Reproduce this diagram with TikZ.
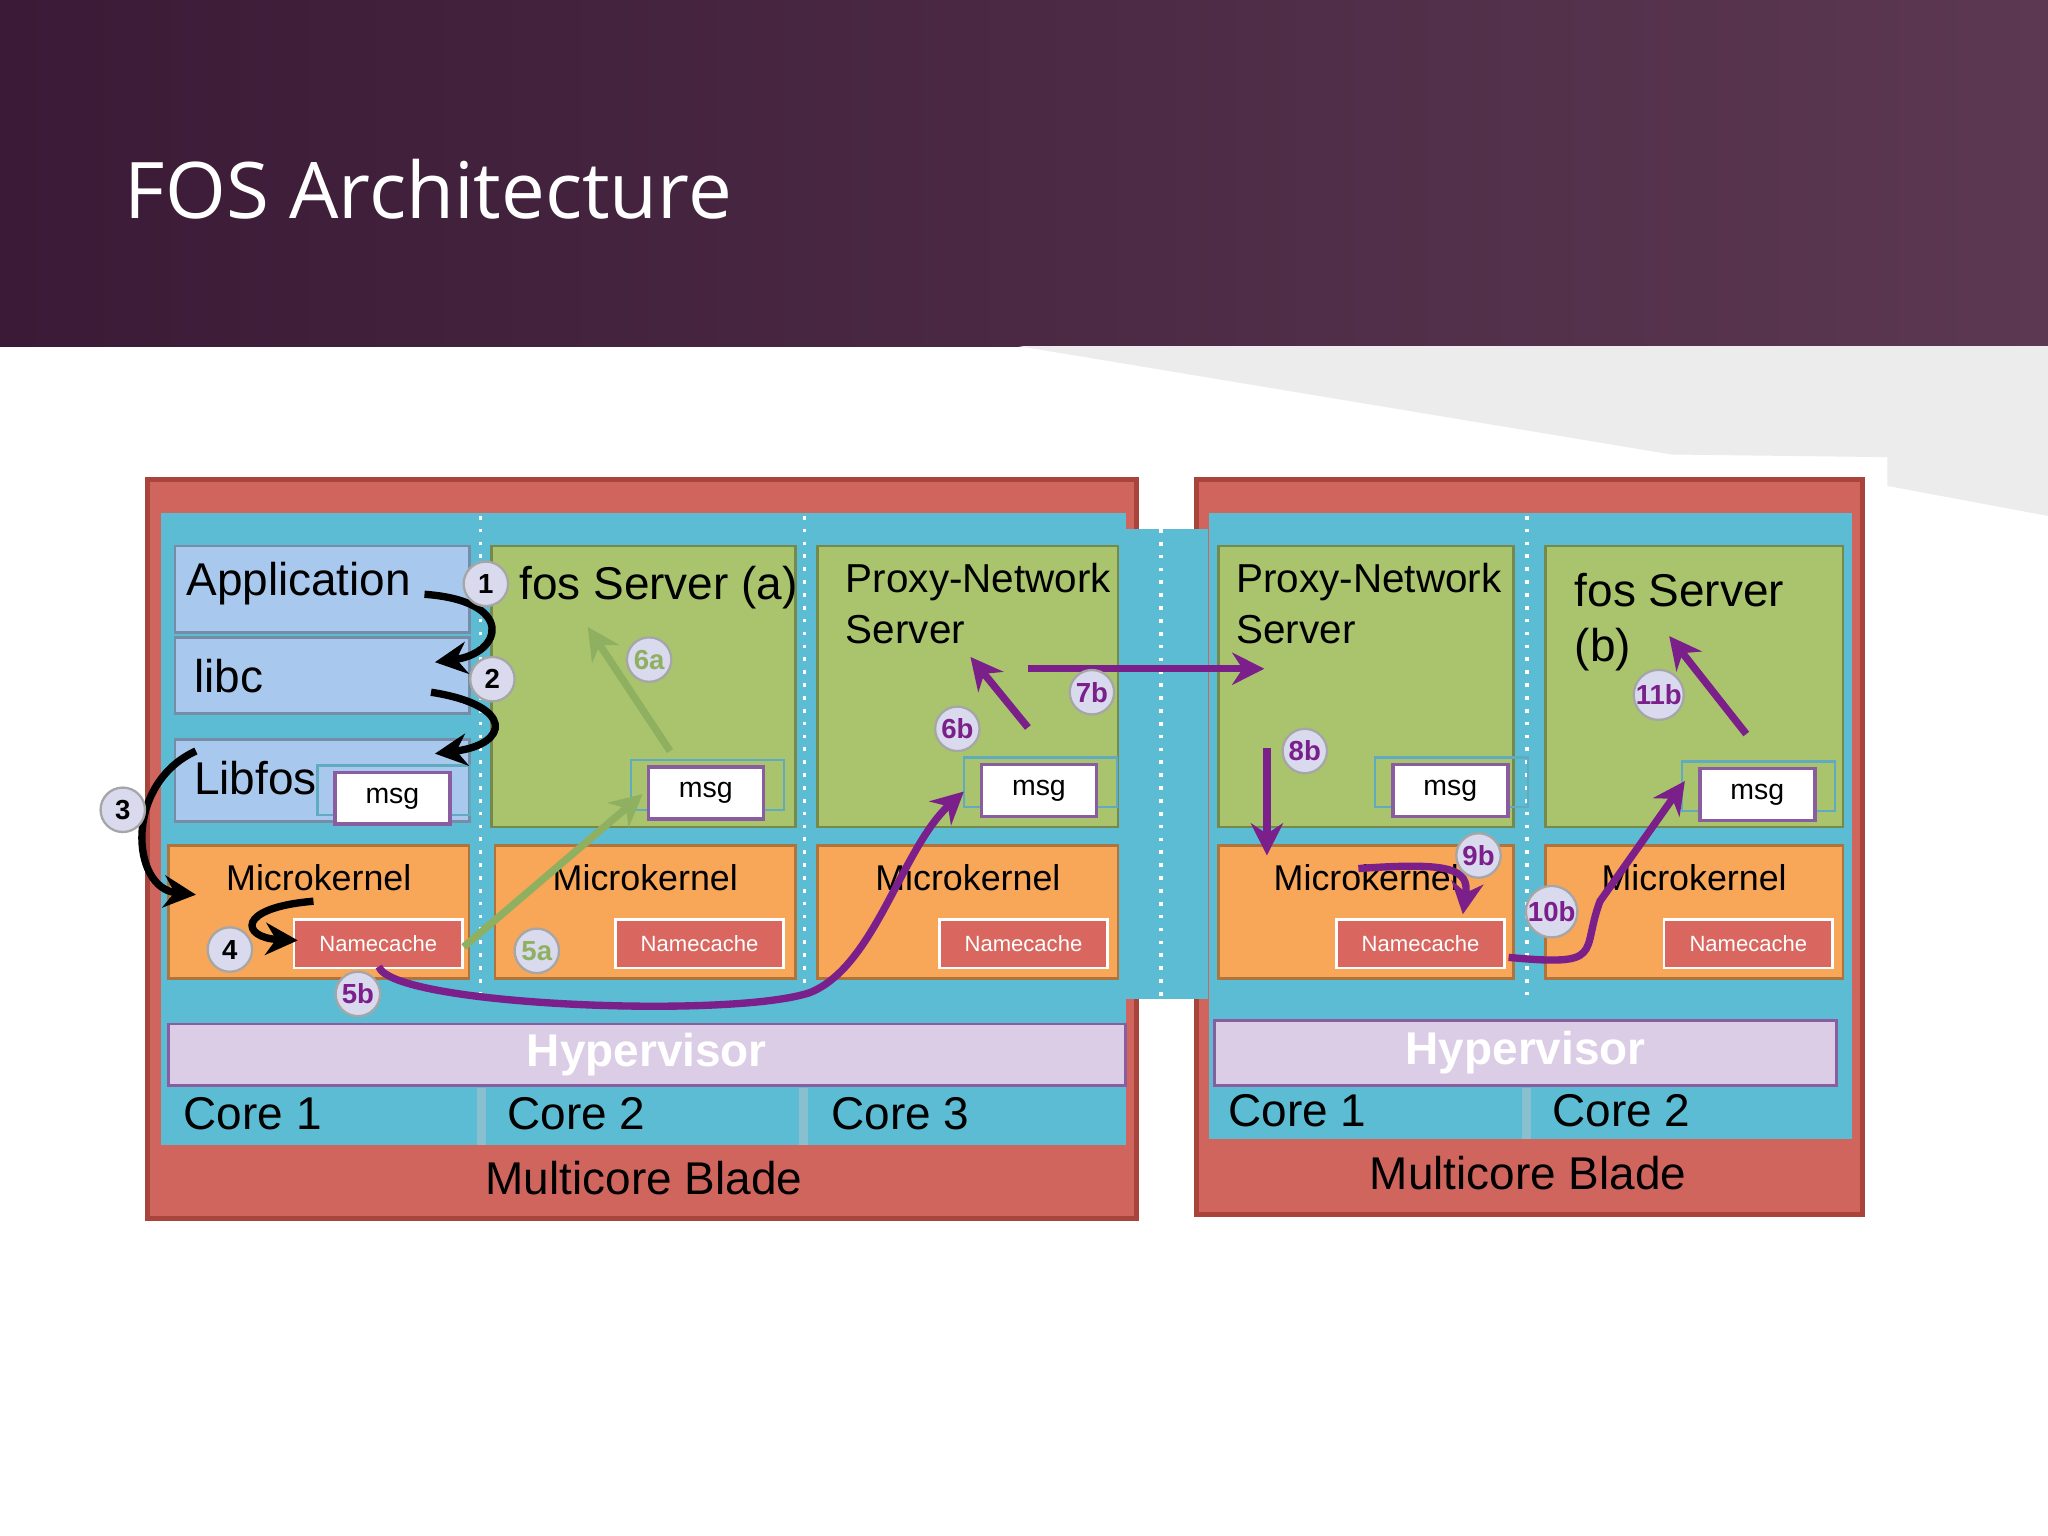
\documentclass[tikz,border=0pt]{standalone}
\usepackage{fontspec}
\setmainfont{Liberation Sans}
\newfontfamily\titlefont{Open Sans}
\usetikzlibrary{arrows.meta}
\definecolor{hdrL}{HTML}{3A1A36}
\definecolor{hdrR}{HTML}{5C3852}
\definecolor{blade}{HTML}{D0655D}
\definecolor{bladeB}{HTML}{A8443C}
\definecolor{cyanC}{HTML}{5BBCD4}
\definecolor{cyanB}{HTML}{3A96B0}
\definecolor{appblue}{HTML}{A9C8EE}
\definecolor{srv}{HTML}{A9C46C}
\definecolor{srvB}{HTML}{7FA048}
\definecolor{mk}{HTML}{F8A658}
\definecolor{nc}{HTML}{D9675F}
\definecolor{hyp}{HTML}{DCCDE6}
\definecolor{hypB}{HTML}{8A5CA0}
\definecolor{purp}{HTML}{7B1F8A}
\definecolor{grn}{HTML}{8FB060}
\definecolor{circ}{HTML}{D9DAEE}
\begin{document}
\begin{tikzpicture}[x=0.01cm,y=-0.01cm,
 box/.style={draw=#1!70!black,line width=0.6pt,anchor=north west,inner sep=0},
 t/.style={font=\fontsize{10}{12}\selectfont,anchor=west,inner sep=0,align=left},
 tp/.style={font=\fontsize{8.8}{11}\selectfont,anchor=west,inner sep=0,align=left},
 ncs/.style={fill=nc,draw=white,line width=0.6pt,font=\fontsize{4.8}{5}\selectfont,text=white},
 msgs/.style={fill=white,draw=hypB,line width=0.8pt,font=\fontsize{6.2}{7}\selectfont},
 c/.style={circle,fill=circ,draw=gray!70,line width=0.5pt,minimum size=0.34cm,inner sep=0,font=\fontsize{6}{7}\selectfont\bfseries},
 ba/.style={-{Stealth[length=7pt,width=7pt]},line width=1.6pt,black},
 pa/.style={-{Stealth[length=7pt,width=7pt]},line width=1.6pt,purp},
 ga/.style={-{Stealth[length=7pt,width=7pt]},line width=1.6pt,grn},
 sep/.style={white,line width=0.8pt,dotted}]
\useasboundingbox (0,0) rectangle (1568,1176);
\fill[white] (0,0) rectangle (1568,1176);
\shade[left color=hdrL,right color=hdrR] (0,0) rectangle (1568,265);
\fill[gray!15] (780,265) -- (1568,265) -- (1568,395) -- (1445,372) -- (1445,350) -- (1280,348) -- cycle;
\node[anchor=west,text=white,inner sep=0,font=\titlefont\fontsize{17}{20}\selectfont] (title) at (95,145) {FOS Architecture};
% blades
\draw[fill=blade,draw=bladeB,line width=1pt] (113,367) rectangle (870,933);
\draw[fill=blade,draw=bladeB,line width=1pt] (916,367) rectangle (1426,930);
\fill[cyanC] (862,405) rectangle (925,765);
\draw[sep] (889,405) -- (889,765);
\fill[cyanC] (123,393) rectangle (862,877);
\fill[cyanC] (926,393) rectangle (1418,872);
\foreach \x in {368,616} \draw[sep] (\x,395) -- (\x,765);
\draw[sep] (1169,395) -- (1169,765);
\foreach \x in {365,612} \fill[cyanB!60] (\x,833) rectangle (\x+7,877);
\fill[cyanB!60] (1165,833) rectangle (1172,872);
% hypervisors
\node[box=hyp,fill=hyp,draw=hypB,minimum width=7.32cm,minimum height=0.47cm] (hypL) at (128,783) {};
\node[text=white,font=\fontsize{10}{12}\selectfont\bfseries] at (hypL.center) {Hypervisor};
\node[box=hyp,fill=hyp,draw=hypB,minimum width=4.76cm,minimum height=0.5cm] (hypR) at (929,780) {};
\node[text=white,font=\fontsize{10}{12}\selectfont\bfseries] at (hypR.center) {Hypervisor};
\node[t] at (140,853) {Core 1};
\node[t] at (388,853) {Core 2};
\node[t] at (636,853) {Core 3};
\node[t] at (940,850) {Core 1};
\node[t] at (1188,850) {Core 2};
\node[font=\fontsize{10}{12}\selectfont] at (493,902) {Multicore Blade};
\node[font=\fontsize{10}{12}\selectfont] at (1170,898) {Multicore Blade};
% core1 left
\node[box=appblue,fill=appblue,minimum width=2.25cm,minimum height=0.66cm] (app) at (133,417) {};
\node[t] at (142,447) {Application};
\node[box=appblue,fill=appblue,minimum width=2.25cm,minimum height=0.58cm] (libc) at (133,487) {};
\node[t] at (148,518) {libc};
\node[box=appblue,fill=appblue,minimum width=2.25cm,minimum height=0.63cm] (libfos) at (133,565) {};
\node[t] at (148,596) {Libfos};
% servers
\foreach \n/\x/\y/\w in {s2/375/417/233,s3/625/417/230,s4/932/417/226,s5/1182/417/228}
  \node[box=srv,fill=srv,minimum width=\w*0.01cm,minimum height=2.15cm] (\n) at (\x,\y) {};
\node[t] at (397,450) {fos Server (a)};
\node[tp] at (647,462) {Proxy-Network\\Server};
\node[tp] at (946,462) {Proxy-Network\\Server};
\node[t] at (1205,476) {fos Server\\(b)};
% microkernels
\foreach \n/\x/\w in {m1/128/230,m2/378/230,m3/625/230,m4/932/226,m5/1182/228}{
  \node[box=mk,fill=mk,minimum width=\w*0.01cm,minimum height=1.02cm] (\n) at (\x,646) {};
  \node[font=\fontsize{7.8}{9}\selectfont] at ([yshift=-0.26cm]\n.north) {Microkernel};}
\foreach \n/\x in {n1/224,n2/470,n3/718,n4/1022,n5/1273}
  \node[ncs,anchor=north west,minimum width=1.29cm,minimum height=0.37cm] (\n) at (\x,703) {Namecache};
% msgs
\foreach \n/\x/\y in {g1/255/590,g2/495/586,g3/750/584,g4/1065/584,g5/1300/587}{
  \draw[cyanB!80,line width=0.5pt] (\x-12,\y-4) rectangle (\x+105,\y+34);
  \node[msgs,anchor=north west,minimum width=0.88cm,minimum height=0.3cm] (\n) at (\x,\y) {msg};}
% arrows black
\draw[ba] (325,455) .. controls (395,460) and (385,500) .. (333,507);
\draw[ba] (330,530) .. controls (395,540) and (390,570) .. (333,577);
\draw[ba] (150,575) .. controls (95,600) and (100,680) .. (150,685);
\draw[ba] (240,690) .. controls (180,695) and (185,718) .. (228,720);
% green
\draw[ga] (513,575) -- (450,480);
\draw[ga] (355,725) -- (492,608);
% purple
\draw[pa] (290,740) .. controls (300,770) and (560,780) .. (620,760) .. controls (670,740) and (690,650) .. (738,606);
\draw[pa] (787,557) -- (743,503);
\draw[pa] (787,512) -- (968,512);
\draw[pa] (970,573) -- (970,655);
\draw[pa] (1040,665) .. controls (1110,660) and (1125,665) .. (1120,700);
\draw[pa] (1155,733) .. controls (1230,740) and (1210,730) .. (1225,690) -- (1290,598);
\draw[pa] (1337,562) -- (1278,487);
% circles
\foreach \p/\l/\col in {372/447/1,377/520/2,94/620/3,176/727/4}
  \node[c] at (\p,\l) {\col};
\foreach \p/\l/\col in {274/761/5b,733/558/6b,836/530/7b,999/575/8b,1132/655/9b,1188/698/10b,1270/532/11b}
  \node[c,text=purp] at (\p,\l) {\col};
\foreach \p/\l/\col in {411/728/5a,497/505/6a}
  \node[c,text=grn] at (\p,\l) {\col};
\end{tikzpicture}
\end{document}
